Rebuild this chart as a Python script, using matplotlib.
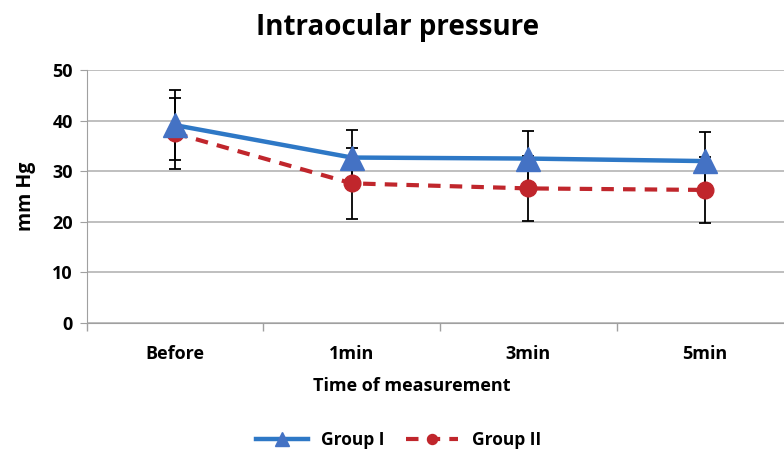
import matplotlib.pyplot as plt
import numpy as np

plt.rcParams['font.family'] = ['Open Sans', 'DejaVu Sans']

times = ['Before', '1min', '3min', '5min']
group1 = [39.1, 32.7, 32.5, 32.0]
group1_sd = [6.9, 5.4, 5.5, 5.7]
group2 = [37.5, 27.6, 26.6, 26.3]
group2_sd = [7.0, 7.0, 6.5, 6.6]

fig = plt.figure(figsize=(7.84, 4.54), dpi=100)
ax = fig.add_axes([0.1106, 0.2885, 0.8894, 0.5573])

x = np.arange(len(times))

# Group II underneath, error bars first
ax.errorbar(x, group2, yerr=group2_sd, fmt='none', ecolor='black',
            elinewidth=1.3, capsize=4, capthick=1.3, zorder=2)
ax.errorbar(x, group1, yerr=group1_sd, fmt='none', ecolor='black',
            elinewidth=1.3, capsize=4, capthick=1.3, zorder=2)
ax.plot(x, group2, color='#c0262c', linestyle=(0, (3, 2.2)), linewidth=3,
        marker='o', markersize=12, markerfacecolor='#c0262c',
        markeredgecolor='#c0262c', label='Group II', zorder=3)
ax.plot(x, group1, color='#2e78c6', linewidth=3.2,
        marker='^', markersize=17, markerfacecolor='#4472c4',
        markeredgecolor='#4472c4', label='Group I', zorder=4)

ax.set_ylim(0, 50)
ax.set_yticks(range(0, 51, 10))
ax.set_xlim(-0.5, 3.446)
ax.set_xticks(x)
ax.set_xticklabels(times)
ax.set_xticks(np.arange(-0.5, 3.0, 1), minor=True)
ax.tick_params(axis='x', which='major', length=0, pad=16, labelsize=13)
ax.tick_params(axis='x', which='minor', length=6, color='#a0a0a0', width=1)
ax.tick_params(axis='y', length=5, color='#a0a0a0', labelsize=13, pad=5)
for lab in ax.get_xticklabels() + ax.get_yticklabels():
    lab.set_fontweight('bold')

ax.grid(axis='y', color='#b4b4b4', linewidth=1.2)
ax.set_axisbelow(True)
for side in ['top', 'right']:
    ax.spines[side].set_visible(False)
ax.spines['left'].set_color('#a0a0a0')
ax.spines['bottom'].set_color('#a0a0a0')

fig.suptitle('Intraocular pressure', x=0.507, y=0.972, fontsize=20, fontweight='bold')
ax.set_ylabel('mm Hg', fontsize=14, fontweight='bold', labelpad=12)
ax.set_xlabel('Time of measurement', fontsize=13, fontweight='bold', labelpad=8)
ax.xaxis.set_label_coords(0.466, -0.215)

h, l = ax.get_legend_handles_labels()
fig.legend(h[::-1], l[::-1], loc='center', bbox_to_anchor=(0.508, 0.03), ncol=2,
           frameon=False, handlelength=3.0, columnspacing=1.2,
           prop={'weight': 'bold', 'size': 12.5}, markerscale=0.6)

fig.savefig('out.png', dpi=100)
